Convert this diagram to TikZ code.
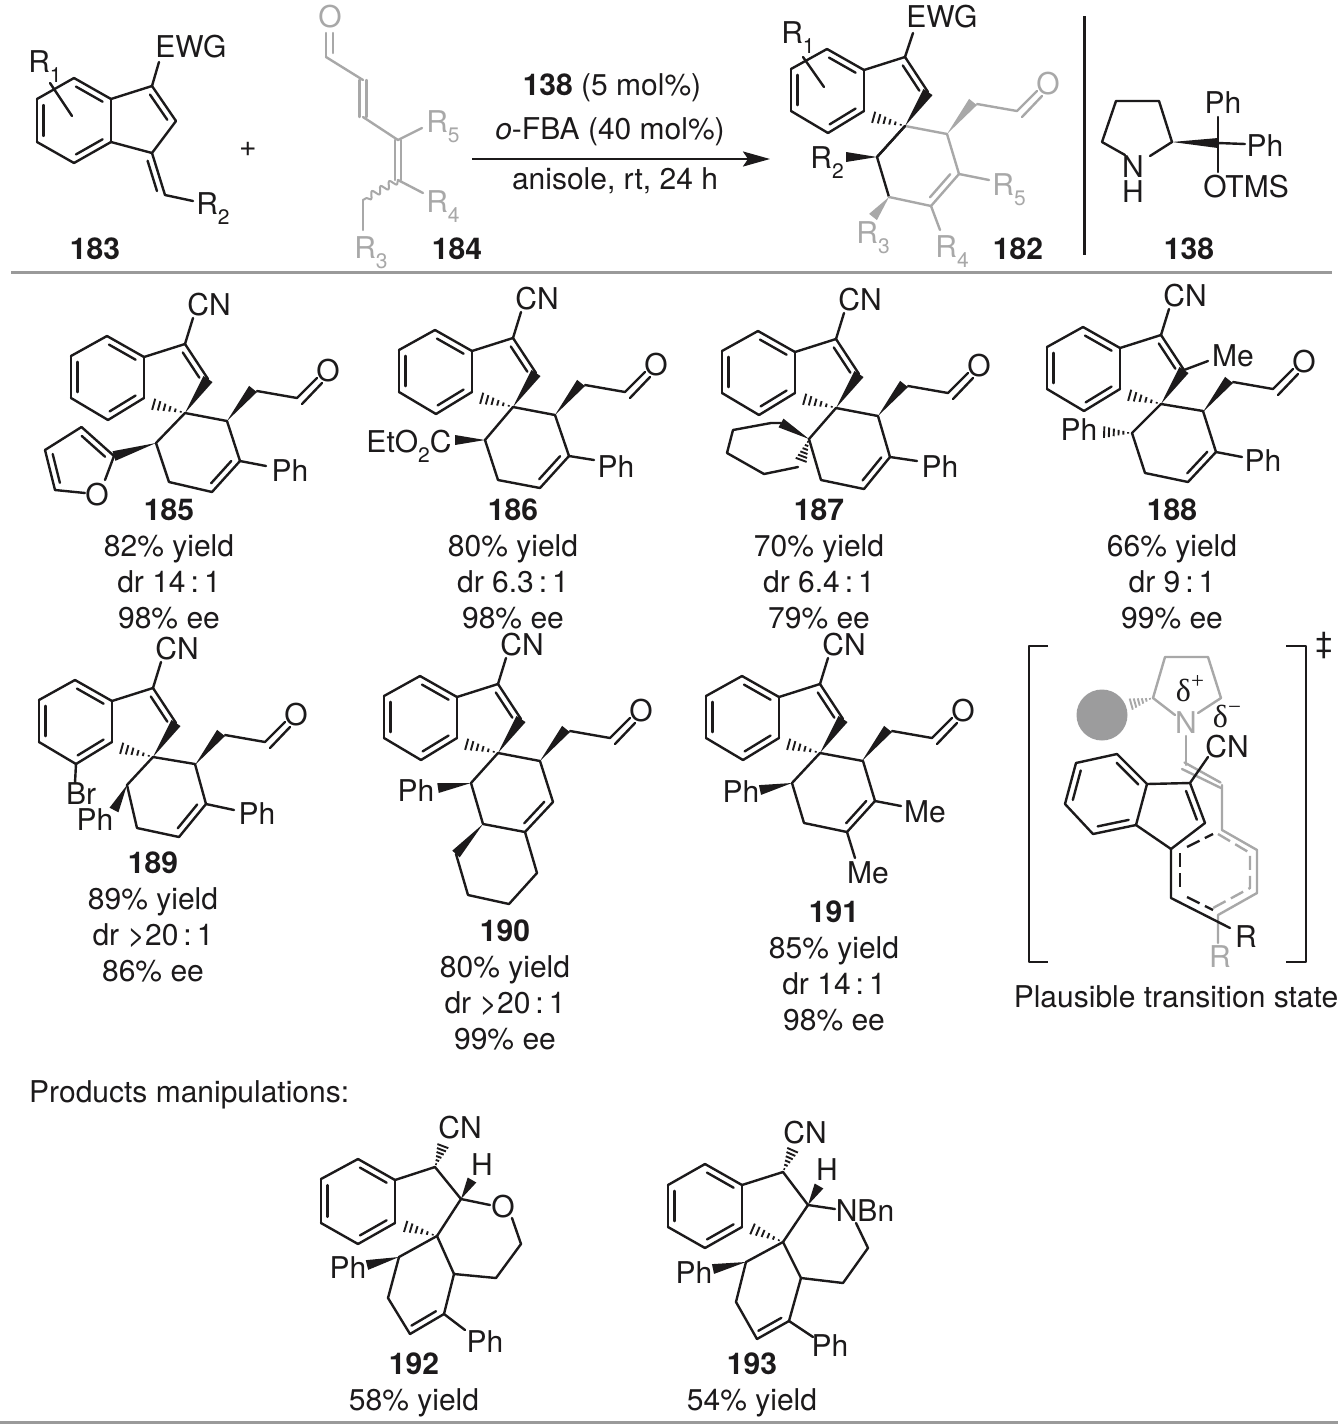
\documentclass[tikz,border=0pt]{standalone}
\usepackage{fontspec}
\setmainfont{TeX Gyre Heros}
\newfontfamily\symf{Liberation Serif}
\usetikzlibrary{calc,arrows.meta,decorations.pathmorphing}
\definecolor{ink}{HTML}{1C1A1B}
\definecolor{lgray}{HTML}{A8A8A8}
\definecolor{rulec}{HTML}{9A9A9A}
\definecolor{ballc}{HTML}{9C9C9D}
\tikzset{
 chem/.style={inner sep=0pt,font=\fontsize{30}{30}\selectfont,text height=21.5pt,text depth=0pt},
 txt/.style={inner sep=0pt,font=\fontsize{30}{30}\selectfont,text height=21.5pt,text depth=0pt},
 num/.style={txt,font=\fontsize{30}{30}\selectfont\bfseries},
 delta/.style={inner sep=0pt,font=\fontsize{32}{32}\selectfont\symf,text height=20pt,text depth=0pt},
 sepline/.style={color=rulec,line width=3pt,line cap=butt},
 dashb/.style={dash pattern=on 14pt off 6pt,line cap=butt},
}
\newcommand\Rs[1]{R\raisebox{-.32em}{\fontsize{21}{21}\selectfont #1}}
\newcommand\atoms[1]{\foreach \n/\x/\y in {#1}{\coordinate (\n) at (\x,\y);}}
% double bond: main line plus shortened inner line on side #3 (90 = left of travel)
\newcommand\dbl[3]{\draw (#1)--(#2);
 \draw ($(#1)!.14!(#2)!6.5pt!#3:(#2)$) -- ($(#1)!.86!(#2)!6.5pt!#3:(#2)$);}
\newcommand\wdg[3][5pt]{\fill (#2) -- ($(#3)!#1!90:(#2)$) -- ($(#3)!#1!-90:(#2)$) -- cycle;}
\newcommand\hsh[2]{\foreach \tt/\hh in {.12/.8,.27/1.8,.42/2.8,.57/3.8,.72/4.8,.87/5.8,1/6.6}{
 \draw[line width=1.9pt,line cap=butt] ($(#1)!\tt!(#2)!\hh pt!90:(#2)$) -- ($(#1)!\tt!(#2)!\hh pt!-90:(#2)$);}}
\newcommand\benz{\dbl{J1}{B1}{90}\draw (B1)--(B2);\dbl{B2}{B3}{90}\draw (B3)--(B4);\dbl{B4}{J2}{90}\draw (J2)--(J1);}
% spiro-indene skeleton at spiro atom (#1,#2)
\newcommand\indene[2]{\begin{scope}[shift={(#1,#2)}]
 \atoms{S/0/0,C1/0/-69,C2/23/-34,J1/-41/-56,B1/-78/-77,B2/-114/-57,B3/-114/-15,B4/-77/7,J2/-41/-15,Hs/-36/-10,
   A/42/8,B/55/48,C/27/79,D/-16/69,E/-29/30,W/68/-24,Hb/72/-22,Ca/112/-15,Ox1/132/-35,Ox2/117/-9,Ox3/137/-30,Ox/143/-42,Pe/81/53,CNe/8/-95,CNl/24/-108}
 \end{scope}
 \benz
 \draw (J1)--(C1);\dbl{C1}{C2}{-90}
 \wdg[5.5pt]{S}{C2}\hsh{S}{Hs}}
\newcommand\arm{\wdg{A}{W}\draw (Hb)--(Ca)--(Ox1);\draw (Ox2)--(Ox3);\node[chem] (oxn) at (Ox) {O};}
\newcommand\cnl{\draw (C1)--(CNe);\node[chem] (cnn) at (CNl) {CN};}
\newcommand\ringb{\draw (S)--(A)--(B);\dbl{B}{C}{-90}\draw (C)--(D)--(E)--(S);}
\newcommand\skel[2]{\indene{#1}{#2}\cnl\arm}
\newcommand\phb[2]{\draw (B)--(Pe);\node[chem] (phn) at (#1,#2) {Ph};}
\newcommand\info[6]{%
 \node[num] (n#1) at (#2,#3) {#1};
 \node[txt] at (#2,#3+36) {#4};
 \node[txt] at (#2,#3+72) {#5};
 \node[txt] at (#2,#3+108) {#6};}
\begin{document}
\begin{tikzpicture}[x=1pt,y=-1pt,color=ink,line width=2.4pt,line join=round,line cap=round]
\path[fill=white,use as bounding box] (0,0) rectangle (1338,1425);
%%%%% rules
\draw[sepline] (11,272)--(1332,272);
\draw[sepline] (0,1422)--(1338,1422);
%%%%% 183
\atoms{J1/111/99,B1/74/78,B2/37/99,B3/37/142,B4/74/163,J2/111/142,C1/152/86,C2/176/121,C3/152/153,Ee/159/62,X/165/195,R2e/193/201,Ra/50/83,Rb/72/116}
\benz\draw (J1)--(C1);\dbl{C1}{C2}{-90}\draw (C2)--(C3)--(J2);\draw (C1)--(Ee);
\dbl{C3}{X}{-90}\draw (X)--(R2e);\draw (Ra)--(Rb);
\node[chem] at (191,47) {EWG};\node[chem] at (45,62) {\Rs1};\node[chem] at (213,204) {\Rs2};
\node[num] at (95,249) {183};
\node[chem] at (248,146) {+};
%%%%% 184
\begin{scope}[color=lgray]
\atoms{O1/326/57,O2/326/33,O3/333/53,O4/333/33,D1/363/80,D2/363/117,D3/398/140,D4/398/180,R5e/422/128,R4e/423/193,Wv/363/200,R3e/363/230}
\draw (O1)--(O2);\draw (O3)--(O4);\draw (O1)--(D1);
\draw ($(D1)+(-3.5,0)$)--($(D2)+(-3.5,0)$);\draw ($(D1)+(3.5,0)$)--($(D2)+(3.5,0)$);
\draw (D2)--(D3)--(R5e);
\draw ($(D3)+(-2.8,0)$)--($(D4)+(-2.8,0)$);\draw ($(D3)+(2.8,0)$)--($(D4)+(2.8,0)$);
\draw (D4)--(R4e);
\draw[line width=2pt,decorate,decoration={snake,segment length=10pt,amplitude=3.5pt}] (D4)--(Wv);
\draw (Wv)--(R3e);
\node[chem] at (330,17) {O};\node[chem] at (443,122) {\Rs5};\node[chem] at (443,202) {\Rs4};\node[chem] at (371,248) {\Rs3};
\end{scope}
\node[num] at (457,249) {184};
%%%%% arrow
\coordinate (arS) at (472,159);\coordinate (arE) at (770,159);
\draw[-{Stealth[length=27pt,width=15pt,inset=5pt]},line cap=butt] (arS)--(arE);
\node[txt] at (612,85) {\textbf{138} (5 mol\%)};
\node[txt] at (610,129) {\textit{o}-FBA (40 mol\%)};
\node[txt] at (615,179) {anisole, rt, 24 h};
%%%%% 182
\indene{905}{126}
\atoms{Ee/913/33,Ra/803/57,Rb/824/87,R2w/846/157,R3w/873/217,R4e/940/230,R5e/989/180,A/947/134,B/959/174,C/931/206,D/889/197,E/877/157}
\draw (C1)--(Ee);\draw (Ra)--(Rb);
\draw (S)--(E)--(D);\wdg{E}{R2w}
\begin{scope}[color=lgray]
\draw (S)--(A);\arm
\draw (A)--(B);\dbl{B}{C}{-90}\draw (C)--(D);\wdg{D}{R3w}\draw (C)--(R4e);\draw (B)--(R5e);
\node[chem] at (1009,185) {\Rs5};\node[chem] at (952,247) {\Rs4};\node[chem] at (873,233) {\Rs3};
\end{scope}
\draw (S)--(E);
\node[chem] at (942,17) {EWG};\node[chem] at (798,33) {\Rs1};\node[chem] at (827,158) {\Rs2};
\node[num] at (1018,249) {182};
\draw[line width=3pt,line cap=butt] (1084,16)--(1084,255);
%%%%% 138
\atoms{P1/1116/101,P2/1159/101,P3/1172/142,P4/1102/142,Pn1/1125/155,Pn2/1150/156,Q/1218/143,Qu/1218/117,Qr/1245/144,Qd/1218/172}
\draw (Pn1)--(P4)--(P1)--(P2)--(P3)--(Pn2);\wdg{P3}{Q}
\draw (Qu)--(Qd);\draw (Q)--(Qr);
\node[chem] at (1133,167) {N};\node[chem] at (1133,192) {H};
\node[chem] at (1223,103) {Ph};\node[chem] at (1265,146) {Ph};\node[chem] at (1246,187) {OTMS};
\node[num] at (1189,249) {138};
%%%%% 185
\skel{185}{413}\ringb\phb{290}{471}
\atoms{F2/114/456,F3/81.5/427,F4/45/450,F5/55/490,Fo1/85/493,Fo2/105/480}
\wdg{E}{F2}\dbl{F2}{F3}{90}\draw (F3)--(F4);\dbl{F4}{F5}{90}\draw (F5)--(Fo1);\draw (F2)--(Fo2);
\node[chem] at (97,495) {O};
\info{185}{169}{510}{82\% yield}{dr 14\,:\,1}{98\% ee}
%%%%% 186
\skel{513}{407}\atoms{E/485/440,D/498/480,C/540/488,B/569/456}\ringb\phb{616}{467}
\coordinate (Ew) at (455,440);\wdg{E}{Ew}
\node[chem] at (409,442) {EtO\raisebox{-.32em}{\fontsize{21}{21}\selectfont 2}C};
\info{186}{513}{510}{80\% yield}{dr 6.3\,:\,1}{98\% ee}
%%%%% 187
\skel{836}{408}\atoms{E/809/439,D/821/480,C/864/489,B/890/457}\ringb\phb{940}{467}
\atoms{Y1/781/423,Y2/771/423,Y3/733/430,Y4/727/453,Y5/764/474,Y6/798/467,Y7/800/463}
\wdg{E}{Y1}\draw (Y1)--(Y2)--(Y3)--(Y4)--(Y5)--(Y6);\hsh{E}{Y7}
\info{187}{819}{510}{70\% yield}{dr 6.4\,:\,1}{79\% ee}
%%%%% 188
\skel{1161}{404}\atoms{A/1203/411,B/1216/452,C/1188/482,D/1145/473,E/1132/433,Mee/1208/361,Phh/1100/432}
\ringb\phb{1263}{461}
\draw (C2)--(Mee);\node[chem] at (1233,356) {Me};
\hsh{E}{Phh}\node[chem] at (1079,430) {Ph};
\info{188}{1172}{510}{66\% yield}{dr 9\,:\,1}{99\% ee}
%%%%% 189
\skel{153}{757}\atoms{A/195/764,B/206/804,C/179/837,D/137/828,E/127/785,Bre/75/783,Phw/114/810}
\ringb\phb{257}{814}
\draw (B4)--(Bre);\node[chem] at (81,794) {Br};
\wdg{E}{Phw}\node[chem] at (95,820) {Ph};
\info{189}{153}{863}{89\% yield}{dr >20\,:\,1}{86\% ee}
%%%%% 190
\skel{498}{753}\atoms{A/540/761,B/553/802,C/525/832,D/483/824,E/471/783,Phw/438/788,G1/456/854,G2/468/895,G3/509/904,G4/537/873}
\ringb
\wdg{E}{Phw}\node[chem] at (416,791) {Ph};
\wdg{D}{G1}\draw (G1)--(G2)--(G3)--(G4)--(C);
\info{190}{505}{931}{80\% yield}{dr >20\,:\,1}{99\% ee}
%%%%% 191
\skel{820}{753}\atoms{A/863/761,B/875/801,C/847/832,D/804/823,E/792/783,Phw/760/790,M1/901/806,M2/855/858}
\ringb
\wdg{E}{Phw}\node[chem] at (741,792) {Ph};
\draw (B)--(M1);\draw (C)--(M2);
\node[chem] at (925,812) {Me};\node[chem] at (868,873) {Me};
\info{191}{834}{912}{85\% yield}{dr 14\,:\,1}{98\% ee}
%%%%% transition state
\draw[line width=2.4pt,line cap=butt] (1048,646)--(1029,646)--(1029,962)--(1048,962);
\draw[line width=2.4pt,line cap=butt] (1286,646)--(1306,646)--(1306,962)--(1286,962);
\node[chem] at (1324,643) {‡};
\fill[ballc] (1102,715) circle (25.5);
\begin{scope}[color=lgray]
\atoms{T1/1153/698,T2/1165/657,T3/1208/657,T4/1221/698,Tn1/1175/715,Tn2/1198/713,Th/1128/705,Td1/1186/736,Td2/1186/765,Td3/1222/785,Td4/1222/830,Tr1/1257/850,Tr2/1257/893,Tr3/1218/915,Tr4/1218/943}
\draw (Tn1)--(T1)--(T2)--(T3)--(T4)--(Tn2);\hsh{T1}{Th}
\draw (Td1)--(Td2);
\draw ($(Td2)+(-1.5,-2.5)$)--($(Td3)+(-1.5,-2.5)$);\draw ($(Td2)+(-4,4)$)--($(Td3)+(-1,3)$);
\draw (Td3)--(Td4)--(Tr1)--(Tr2)--(Tr3)--(Tr4);
\draw[dashb] (1218,834)--(1250,853)--(1250,888)--(1213,908);
\node[chem] at (1186,723) {N};\node[chem] at (1220,957) {R};
\end{scope}
\node[delta] at (1190,691) {δ\raisebox{.4em}{\fontsize{23}{23}\selectfont +}};
\node[delta] at (1227,717) {δ\raisebox{.4em}{\fontsize{23}{23}\selectfont −}};
\atoms{J1/1147/784,B1/1117/754,B2/1076/763,B3/1065/804,B4/1093/834,J2/1136/825,C1/1190/783,C2/1205/823,C3/1171/849,Cne/1208/757,Cc/1171/898,Re/1230/928}
\benz\draw (J1)--(C1);\dbl{C1}{C2}{-90}\draw (C2)--(C3)--(J2);\draw (C1)--(Cne);
\draw (C3)--(Cc)--(Re);
\draw[dashb] (1187,847)--(1213,834);
\draw[dashb] (1180,853)--(1180,890);
\draw[dashb] (1187,897)--(1213,910);
\node[chem] at (1227,747) {CN};\node[chem] at (1246,937) {R};
\node[txt] at (1176,997) {Plausible transition state};
%%%%% manipulations
\node[txt,anchor=west] at (28,1092) {Products manipulations:};
%%%%% 192
\atoms{J1/395/1180,B1/358/1159,B2/321/1179,B3/321/1223,B4/358/1244,J2/395/1223,X/435/1167,Xh/444/1143,Y/461/1199,Hw/472/1180,S/437/1236,Hs/401/1225,Oa/490/1205,Ob/512/1218,K1/521/1244,K2/496/1278,K3/454/1274,K4/444/1314,K5/410/1334,K6/388/1298,K7/399/1257,Pw/367/1265,Pf/465/1330}
\benz\draw (J1)--(X)--(Y)--(S);\hsh{X}{Xh}\wdg{Y}{Hw}\hsh{S}{Hs}\draw (Y)--(Oa);
\draw (Ob)--(K1)--(K2)--(K3)--(S);\draw (K3)--(K4);\dbl{K4}{K5}{-90}\draw (K5)--(K6)--(K7)--(S);\wdg{K7}{Pw}\draw (K4)--(Pf);
\node[chem] at (460,1128) {CN};\node[chem] at (482,1165) {H};\node[chem] at (503,1207) {O};
\node[chem] at (348,1268) {Ph};\node[chem] at (485,1342) {Ph};
\node[num] at (414,1364) {192};\node[txt] at (414,1400) {58\% yield};
%%%%% 193
\atoms{J1/742/1185,B1/705/1164,B2/668/1185,B3/668/1227,B4/705/1248,J2/742/1227,X/783/1172,Xh/794/1147,Y/808/1205,Hw/819/1186,S/783/1242,Hs/748/1227,Oa/835/1209,Ob/856/1223,K1/868/1248,K2/843/1283,K3/801/1278,K4/789/1321,K5/757/1339,K6/736/1302,K7/746/1262,Pw/713/1269,Pf/813/1337}
\benz\draw (J1)--(X)--(Y)--(S);\hsh{X}{Xh}\wdg{Y}{Hw}\hsh{S}{Hs}\draw (Y)--(Oa);
\draw (Ob)--(K1)--(K2)--(K3)--(S);\draw (K3)--(K4);\dbl{K4}{K5}{-90}\draw (K5)--(K6)--(K7)--(S);\wdg{K7}{Pw}\draw (K4)--(Pf);
\node[chem] at (805,1133) {CN};\node[chem] at (827,1170) {H};\node[chem] at (865,1211) {NBn};
\node[chem] at (694,1273) {Ph};\node[chem] at (830,1346) {Ph};
\node[num] at (752,1364) {193};\node[txt] at (752,1400) {54\% yield};
\end{tikzpicture}
\end{document}
